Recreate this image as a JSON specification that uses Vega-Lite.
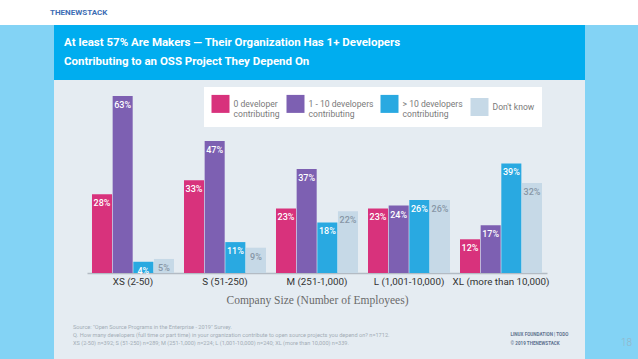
{
  "$schema": "https://vega.github.io/schema/vega-lite/v6.json",
  "background": "#83d3f5",
  "padding": 0,
  "spacing": 0,
  "config": {"view": {"stroke": null}, "concat": {"spacing": 0}},
  "datasets": {
    "survey": [
      {"size": "XS (2-50)", "category": "0 developer contributing", "value": 0.28},
      {"size": "XS (2-50)", "category": "1 - 10 developers contributing", "value": 0.63},
      {"size": "XS (2-50)", "category": "> 10 developers contributing", "value": 0.04},
      {"size": "XS (2-50)", "category": "Don't know", "value": 0.05},
      {"size": "S (51-250)", "category": "0 developer contributing", "value": 0.33},
      {"size": "S (51-250)", "category": "1 - 10 developers contributing", "value": 0.47},
      {"size": "S (51-250)", "category": "> 10 developers contributing", "value": 0.11},
      {"size": "S (51-250)", "category": "Don't know", "value": 0.09},
      {"size": "M (251-1,000)", "category": "0 developer contributing", "value": 0.23},
      {"size": "M (251-1,000)", "category": "1 - 10 developers contributing", "value": 0.37},
      {"size": "M (251-1,000)", "category": "> 10 developers contributing", "value": 0.18},
      {"size": "M (251-1,000)", "category": "Don't know", "value": 0.22},
      {"size": "L (1,001-10,000)", "category": "0 developer contributing", "value": 0.23},
      {"size": "L (1,001-10,000)", "category": "1 - 10 developers contributing", "value": 0.24},
      {"size": "L (1,001-10,000)", "category": "> 10 developers contributing", "value": 0.26},
      {"size": "L (1,001-10,000)", "category": "Don't know", "value": 0.26},
      {"size": "XL (more than 10,000)", "category": "0 developer contributing", "value": 0.12},
      {"size": "XL (more than 10,000)", "category": "1 - 10 developers contributing", "value": 0.17},
      {"size": "XL (more than 10,000)", "category": "> 10 developers contributing", "value": 0.39},
      {"size": "XL (more than 10,000)", "category": "Don't know", "value": 0.32}
    ]
  },
  "vconcat": [
    {
      "width": 638,
      "height": 25,
      "view": {"fill": "#ffffff", "stroke": null},
      "data": {"values": []},
      "mark": "point",
      "title": {
        "text": "THENEWSTACK",
        "orient": "top",
        "anchor": "start",
        "baseline": "top",
        "offset": -17,
        "dx": 50,
        "font": "Roboto",
        "fontSize": 8,
        "fontWeight": "bold",
        "color": "#3d6db4"
      }
    },
    {
      "hconcat": [
        {
          "width": 54,
          "height": 334,
          "data": {"values": []},
          "mark": "point"
        },
        {
          "vconcat": [
            {
              "width": 531,
              "height": 55,
              "view": {"fill": "#00adef", "stroke": null},
              "data": {"values": []},
              "mark": "point",
              "title": {
                "text": ["At least 57% Are Makers \u2014 Their Organization Has 1+ Developers", "Contributing to an OSS Project They Depend On"],
                "orient": "top",
                "anchor": "start",
                "baseline": "top",
                "offset": -42.5,
                "dx": 10,
                "font": "Roboto",
                "fontSize": 11.5,
                "fontWeight": "bold",
                "color": "#ffffff",
                "lineHeight": 19
              }
            },
            {
              "width": 531,
              "height": 279,
              "view": {"fill": "#e5ecf2", "stroke": null},
              "data": {"name": "survey"},
              "title": {
                "text": [
                  "Source: \"Open Source Programs in the Enterprise - 2019\" Survey.",
                  "Q. How many developers (full time or part time) in your organization contribute to open source projects you depend on? n=1712.",
                  "XS (2-50) n=392; S (51-250) n=289; M (251-1,000) n=224; L (1,001-10,000) n=240; XL (more than 10,000) n=339."
                ],
                "orient": "bottom",
                "anchor": "start",
                "baseline": "top",
                "offset": -34.5,
                "dx": 19,
                "font": "Roboto",
                "fontSize": 5.6,
                "fontWeight": "normal",
                "color": "#a3acb6",
                "lineHeight": 8
              },
              "encoding": {
                "x": {
                  "field": "size",
                  "type": "nominal",
                  "sort": ["XS (2-50)", "S (51-250)", "M (251-1,000)", "L (1,001-10,000)", "XL (more than 10,000)"],
                  "scale": {"range": [33, 493], "paddingInner": 0.1087, "paddingOuter": 0.0543},
                  "axis": {
                    "title": "Company Size (Number of Employees)",
                    "offset": -86,
                    "labelAngle": 0,
                    "labelFont": "Roboto",
                    "labelFontSize": 9.8,
                    "labelColor": "#333333",
                    "labelPadding": 3.5,
                    "ticks": false,
                    "grid": false,
                    "domainColor": "#b3bbc4",
                    "domainWidth": 1.5,
                    "titleFont": "Liberation Serif",
                    "titleFontSize": 11.5,
                    "titleFontWeight": "normal",
                    "titleColor": "#6a6a6a",
                    "titlePadding": 8.5
                  }
                },
                "xOffset": {
                  "field": "category",
                  "type": "nominal",
                  "sort": ["0 developer contributing", "1 - 10 developers contributing", "> 10 developers contributing", "Don't know"],
                  "scale": {"paddingInner": 0.03}
                },
                "y": {
                  "field": "value",
                  "type": "quantitative",
                  "scale": {"domain": [0, 0.63], "range": [193, 16]},
                  "axis": {
                    "orient": "right",
                    "labels": false,
                    "ticks": false,
                    "domain": false,
                    "grid": false,
                    "title": ["LINUX FOUNDATION  |  TODO", "\u00a9 2019 THENEWSTACK"],
                    "titleAngle": 0,
                    "titleX": -75,
                    "titleY": 254,
                    "titleAlign": "left",
                    "titleBaseline": "middle",
                    "titleFont": "Roboto",
                    "titleFontSize": 4.6,
                    "titleFontWeight": "bold",
                    "titleColor": "#5f7390",
                    "titleLineHeight": 9
                  }
                }
              },
              "layer": [
                {
                  "mark": {"type": "bar"},
                  "encoding": {
                    "color": {
                      "field": "category",
                      "type": "nominal",
                      "scale": {
                        "domain": ["0 developer contributing", "1 - 10 developers contributing", "> 10 developers contributing", "Don't know"],
                        "range": ["#d8327c", "#7d60b2", "#29a9e1", "#c6d9e7"]
                      },
                      "legend": {
                        "orient": "none",
                        "legendX": 204,
                        "legendY": 87,
                        "direction": "horizontal",
                        "title": null,
                        "fillColor": "#ffffff",
                        "padding": 7.5,
                        "symbolType": "square",
                        "symbolSize": 324,
                        "symbolStrokeWidth": 0,
                        "symbolOpacity": 1,
                        "labelFont": "Roboto",
                        "labelFontSize": 8.6,
                        "labelColor": "#7a7a7a",
                        "labelOffset": 4,
                        "labelLimit": 200,
                        "labelLineHeight": 9,
                        "columnPadding": 7,
                        "labelExpr": "datum.label == \"Don't know\" ? datum.label : split(replace(datum.label, ' contributing', '|contributing'), '|')"
                      }
                    }
                  }
                },
                {
                  "mark": {"type": "text", "dy": 9, "baseline": "middle", "font": "Roboto", "fontSize": 9, "fontWeight": 500},
                  "encoding": {
                    "text": {"field": "value", "type": "quantitative", "format": ".0%"},
                    "color": {
                      "condition": {"test": "datum.category === \"Don't know\"", "value": "#8796a6"},
                      "value": "#ffffff"
                    }
                  }
                }
              ]
            }
          ]
        },
        {
          "width": 53,
          "height": 334,
          "data": {"values": []},
          "mark": "point",
          "title": {
            "text": "18",
            "orient": "bottom",
            "anchor": "end",
            "align": "right",
            "baseline": "top",
            "offset": -21,
            "dx": -6,
            "font": "Roboto",
            "fontSize": 10,
            "fontWeight": 300,
            "color": "#94b4c6"
          }
        }
      ]
    }
  ]
}
